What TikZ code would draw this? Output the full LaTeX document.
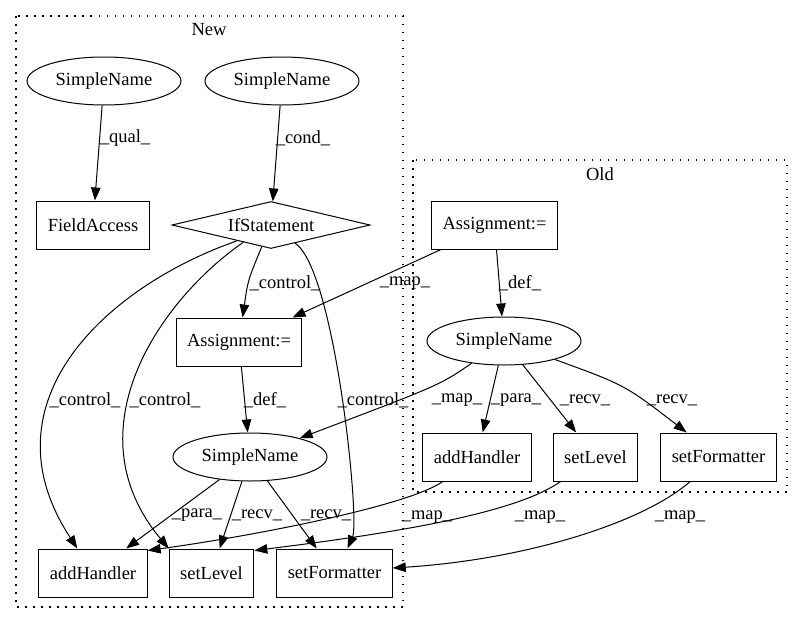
\documentclass[tikz,border=0pt]{standalone}
\usepackage{fontspec}
\setmainfont{Liberation Serif}
\usetikzlibrary{shapes.geometric,arrows.meta}
\tikzset{
	every node/.style={font=\fontsize{18.5pt}{22pt}\selectfont},
	elnode/.style={draw,ellipse,line width=1pt,minimum width=154pt,minimum height=48pt,inner sep=0pt},
	boxnode/.style={draw,rectangle,line width=1pt,minimum height=48pt,inner xsep=11pt},
	ifnode/.style={draw,diamond,line width=1pt,minimum width=198pt,minimum height=47pt,aspect=4.2,inner sep=0pt},
	edge/.style={line width=1pt,-{Triangle[length=13pt,width=9.5pt]}},
	lbl/.style={inner sep=0pt},
	cluster/.style={line width=1.3pt,dash pattern=on 1.5pt off 6.5pt}
}

\begin{document}
\begin{tikzpicture}[x=1pt,y=-1pt]
			\useasboundingbox (0,0) rectangle (803,624);
			\draw[cluster] (16,16) rectangle (403,607);
			\draw[cluster] (413,160) rectangle (787,492);
			\node (newlbl) at (209,30) {New};
			\node (oldlbl) at (600,174) {Old};
			% New
			\node[elnode] (snQual) at (104,81) {SimpleName};
			\node[elnode] (snCond) at (282,81) {SimpleName};
			\node[boxnode] (fieldAcc) at (93,225) {FieldAccess};
			\node[ifnode] (ifStmt) at (271,225) {IfStatement};
			\node[boxnode] (asgNew) at (239,342) {Assignment:=};
			\node[elnode] (snNew) at (250,457) {SimpleName};
			\node[boxnode] (addNew) at (93,573) {addHandler};
			\node[boxnode] (lvlNew) at (211.5,573) {setLevel};
			\node[boxnode] (fmtNew) at (334.5,573) {setFormatter};
			% Old
			\node[boxnode] (asgOld) at (494.5,225) {Assignment:=};
			\node[elnode] (snOld) at (504,341) {SimpleName};
			\node[boxnode] (addOld) at (477,457) {addHandler};
			\node[boxnode] (lvlOld) at (595.5,457) {setLevel};
			\node[boxnode] (fmtOld) at (718.5,457) {setFormatter};
			% edges
			\draw[edge] (snQual) -- (fieldAcc) node[lbl] at (125,138) {\_qual\_};
			\draw[edge] (snCond) -- (ifStmt) node[lbl] at (303,138) {\_cond\_};
			\draw[edge] (ifStmt.-113) .. controls (248,280) .. (asgNew) node[lbl] at (285,283) {\_control\_};
			\draw[edge] (asgOld) -- (asgNew) node[lbl] at (405,283) {\_map\_};
			\draw[edge] (asgOld) -- (snOld) node[lbl] at (520,283) {\_def\_};
			\draw[edge] (asgNew) -- (snNew) node[lbl] at (265,400) {\_def\_};
			\draw[edge] (ifStmt.-155) .. controls (110,285) and (-20,400) .. ([xshift=39pt]addNew.north west) node[lbl] at (85,400) {\_control\_};
			\draw[edge] (ifStmt.-148) .. controls (160,300) and (70,430) .. (lvlNew.north west) node[lbl] at (165,400) {\_control\_};
			\draw[edge] (ifStmt.-37) .. controls (335,270) and (360,520) .. ([xshift=13pt]fmtNew.north) node[lbl] at (373,400) {\_control\_};
			\draw[edge] (snOld) .. controls (440,385) .. (snNew) node[lbl] at (457,400) {\_map\_};
			\draw[edge] (snOld) -- (addOld) node[lbl] at (516,400) {\_para\_};
			\draw[edge] (snOld) -- (lvlOld) node[lbl] at (585,400) {\_recv\_};
			\draw[edge] (snOld) .. controls (625,385) .. (fmtOld) node[lbl] at (672,400) {\_recv\_};
			\draw[edge] (snNew) -- (addNew) node[lbl] at (197,515) {\_para\_};
			\draw[edge] (snNew) -- (lvlNew) node[lbl] at (257,515) {\_recv\_};
			\draw[edge] (snNew) -- (fmtNew) node[lbl] at (326,515) {\_recv\_};
			\draw[edge] (addOld) .. controls (410,505) and (260,535) .. ([yshift=-2pt]addNew.north east) node[lbl] at (427,517) {\_map\_};
			\draw[edge] (lvlOld) .. controls (520,510) and (420,530) .. ([yshift=-2pt]lvlNew.north east) node[lbl] at (540,517) {\_map\_};
			\draw[edge] (fmtOld) .. controls (640,525) and (520,560) .. ([yshift=5pt]fmtNew.east) node[lbl] at (680,517) {\_map\_};
		\end{tikzpicture}
\end{document}
